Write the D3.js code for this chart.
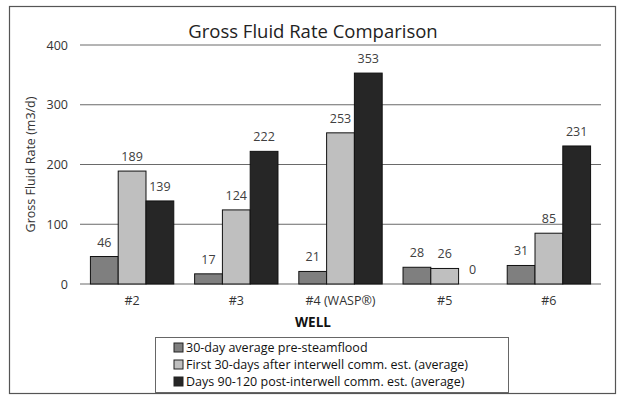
<!DOCTYPE html>
<html>
<head>
<meta charset="utf-8">
<script src="https://cdn.jsdelivr.net/npm/d3@7"></script>
<style>
body { margin: 0; background: #fff; }
svg { font-family: "Open Sans", sans-serif; }
</style>
</head>
<body>
<svg width="625" height="406"></svg>
<script>
var wells = ["#2", "#3", "#4 (WASP\u00ae)", "#5", "#6"];
var seriesNames = ["30-day average pre-steamflood",
                   "First 30-days after interwell comm. est. (average)",
                   "Days 90-120 post-interwell comm. est. (average)"];
var preSteam = [46, 17, 21, 28, 31];
var first30 = [189, 124, 253, 26, 85];
var days90 = [139, 222, 353, 0, 231];
var yTicks = [0, 100, 200, 300, 400];
var colors = ["#7f7f7f", "#bfbfbf", "#262626"];

var series = [preSteam, first30, days90];
var svg = d3.select("svg");

var margin = {top: 45, left: 80, right: 24, bottom: 122};
var width = 625 - margin.left - margin.right;
var height = 406 - margin.top - margin.bottom;

// outer frame
svg.append("rect").attr("x", 9.5).attr("y", 6.5).attr("width", 606).attr("height", 387)
  .attr("fill", "none").attr("stroke", "#555").attr("stroke-width", 1.2);

var g = svg.append("g").attr("transform", "translate(" + margin.left + "," + margin.top + ")");

var xScale = d3.scaleBand().domain(wells).range([0, width]).paddingInner(0.2).paddingOuter(0.1);
var xSub = d3.scaleBand().domain([0, 1, 2]).range([0, xScale.bandwidth()]);
var yScale = d3.scaleLinear().domain([0, 400]).range([height, 0]);

// gridlines
g.selectAll(".grid").data(yTicks).enter().append("line")
  .attr("x1", 0).attr("x2", width)
  .attr("y1", function(d) { return yScale(d); }).attr("y2", function(d) { return yScale(d); })
  .attr("stroke", "#6a6a6a").attr("stroke-width", 1);

var yAxis = d3.axisLeft(yScale).tickValues(yTicks).tickSize(0).tickPadding(12);
var ya = g.append("g").call(yAxis);
ya.select(".domain").remove();
ya.selectAll("text").attr("font-size", "12.5px").attr("fill", "#333").attr("font-family", "Open Sans");

var groups = g.selectAll(".grp").data(wells).enter().append("g")
  .attr("transform", function(d) { return "translate(" + xScale(d) + ",0)"; });

groups.each(function(w, i) {
  var sel = d3.select(this);
  series.forEach(function(s, k) {
    var v = s[i];
    if (v > 0) {
      sel.append("rect")
        .attr("x", xSub(k)).attr("width", xSub.bandwidth())
        .attr("y", yScale(v)).attr("height", yScale(0) - yScale(v))
        .attr("fill", colors[k]).attr("stroke", "#111").attr("stroke-width", 1);
    }
    sel.append("text")
      .attr("x", xSub(k) + xSub.bandwidth() / 2)
      .attr("y", yScale(v) - 10)
      .attr("text-anchor", "middle")
      .attr("font-size", "12.5px").attr("fill", "#404040")
      .text(v);
  });
});

var xAxis = d3.axisBottom(xScale).tickSize(0).tickPadding(12);
var xa = g.append("g").attr("transform", "translate(0," + height + ")").call(xAxis);
xa.select(".domain").remove();
xa.selectAll("text").attr("font-size", "12.5px").attr("fill", "#333").attr("font-family", "Open Sans");

// title
svg.append("text").attr("x", 313).attr("y", 38).attr("text-anchor", "middle")
  .attr("font-size", "18.5px").attr("fill", "#222").text("Gross Fluid Rate Comparison");

// axis titles
svg.append("text").attr("x", 313).attr("y", 327).attr("text-anchor", "middle")
  .attr("font-size", "13.5px").attr("font-weight", "bold").attr("fill", "#111").text("WELL");

svg.append("text").attr("transform", "translate(35," + (margin.top + height / 2) + ") rotate(-90)")
  .attr("text-anchor", "middle").attr("font-size", "12.5px").attr("fill", "#333")
  .text("Gross Fluid Rate (m3/d)");

// legend
var lg = svg.append("g").attr("transform", "translate(155,337)");
lg.append("rect").attr("x", 0.5).attr("y", 0.5).attr("width", 353).attr("height", 55)
  .attr("fill", "#fff").attr("stroke", "#666");
seriesNames.forEach(function(n, k) {
  lg.append("rect").attr("x", 19).attr("y", 6 + k * 17).attr("width", 9).attr("height", 9)
    .attr("fill", colors[k]).attr("stroke", "#222");
  lg.append("text").attr("x", 31).attr("y", 15 + k * 17).attr("font-size", "12.5px").attr("fill", "#111")
    .attr("textLength", k === 0 ? null : null)
    .text(n);
});
</script>
</body>
</html>
